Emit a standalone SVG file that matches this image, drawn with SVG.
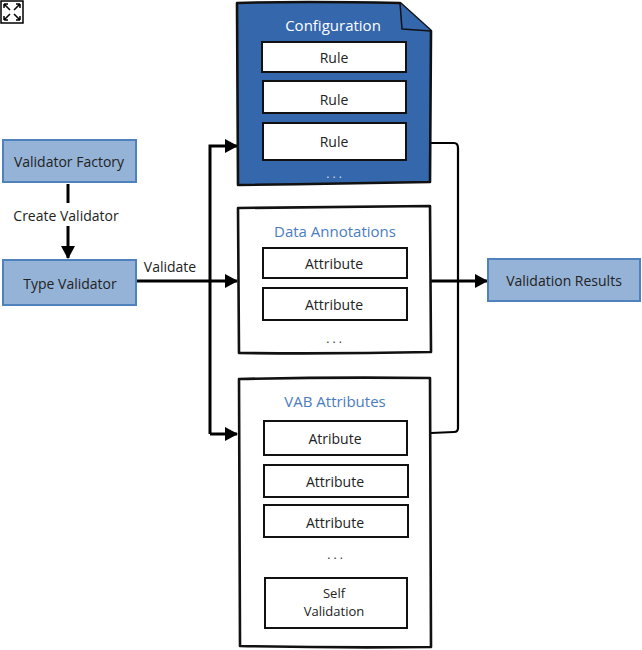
<svg xmlns="http://www.w3.org/2000/svg" width="642" height="650" viewBox="0 0 642 650">
<style>
text{font-family:"Open Sans","DejaVu Sans",sans-serif;font-size:14px;fill:#222;text-anchor:middle;dominant-baseline:central}
.lb{fill:#95b3d7;stroke:#4f81bd;stroke-width:2}
.box{fill:#fff;stroke:#111;stroke-width:2.6;stroke-linejoin:round}
.item{fill:#fff;stroke:#111;stroke-width:2}
.ttl{fill:#4a7cc0;font-size:15px}
.wt{fill:#fff;font-size:15px}
.conn{fill:none;stroke:#000;stroke-width:3}
.thin{fill:none;stroke:#000;stroke-width:2.2}
.dots{font-size:12px;fill:#333}
</style>
<defs>
<marker id="ah" markerWidth="13" markerHeight="14" refX="12" refY="7" orient="auto" markerUnits="userSpaceOnUse" viewBox="0 0 13 14">
<path d="M0,0 L13,7 L0,14 z" fill="#000"/>
</marker>
</defs>

<g id="expand-icon">
<rect x="1" y="1" width="22" height="22" fill="#fff" stroke="#000" stroke-width="1.5"/>
<path d="M4,4 L10,10 M4,4 L4,8 M4,4 L8,4 M20,4 L14,10 M20,4 L16,4 M20,4 L20,8 M4,20 L10,14 M4,20 L4,16 M4,20 L8,20 M20,20 L14,14 M20,20 L20,16 M20,20 L16,20" stroke="#000" stroke-width="1.5" fill="none"/>
</g>

<g id="connectors">
<path class="conn" d="M68,184 L68,203"/>
<path class="conn" d="M68,226 L68,258" marker-end="url(#ah)"/>
<path class="conn" d="M136,281 L237,281" marker-end="url(#ah)"/>
<path class="conn" d="M210,434 L210,146 L237,146" marker-end="url(#ah)"/>
<path class="conn" d="M210,434 L237,434" marker-end="url(#ah)"/>
<path class="thin" d="M431,143 L454,143 Q458,143 458,148 L458,428 Q458,432 454,432 L431,433"/>
<path class="conn" d="M431,281 L487,281" marker-end="url(#ah)"/>
<text x="66" y="215">Create Validator</text>
<text x="170" y="266">Validate</text>
</g>

<g id="validator-factory">
<rect class="lb" x="3" y="140" width="133" height="42"/>
<text x="69" y="161">Validator Factory</text>
</g>

<g id="type-validator">
<rect class="lb" x="3" y="260" width="133" height="45"/>
<text x="70" y="283">Type Validator</text>
</g>

<g id="validation-results">
<rect class="lb" x="488" y="259" width="152" height="42"/>
<text x="564" y="280">Validation Results</text>
</g>

<g id="configuration">
<path d="M237,3 Q300,1 400,3 L431,31 L430,182 Q330,184 238,185 Z" fill="#3567ad" stroke="#111" stroke-width="2.6" stroke-linejoin="round"/>
<path d="M400,3 L402,29 L431,31" fill="#3567ad" stroke="#111" stroke-width="1.5" stroke-linejoin="round"/>
<text class="wt" x="333" y="25">Configuration</text>
<rect class="item" x="262" y="42" width="144" height="30"/>
<text x="334" y="57">Rule</text>
<rect class="item" x="263" y="81" width="143" height="32"/>
<text x="334" y="99">Rule</text>
<rect class="item" x="263" y="123" width="143" height="37"/>
<text x="334" y="141">Rule</text>
<text class="dots" x="334" y="173" style="fill:#ddd">. . .</text>
</g>

<g id="data-annotations">
<path class="box" d="M238,208 Q330,207 430,206 L431,352 Q335,354 239,353 Z"/>
<text class="ttl" x="335" y="231">Data Annotations</text>
<rect class="item" x="263" y="248" width="144" height="30"/>
<text x="334" y="263">Attribute</text>
<rect class="item" x="263" y="288" width="144" height="32"/>
<text x="334" y="304">Attribute</text>
<text class="dots" x="334" y="338">. . .</text>
</g>

<g id="vab-attributes">
<path class="box" d="M239,379 Q330,377 430,378 L431,647 Q335,648 240,646 Z"/>
<text class="ttl" x="335" y="401">VAB Attributes</text>
<rect class="item" x="264" y="421" width="143" height="34"/>
<text x="335" y="438">Atribute</text>
<rect class="item" x="264" y="465" width="144" height="32"/>
<text x="335" y="481">Attribute</text>
<rect class="item" x="264" y="505" width="144" height="32"/>
<text x="335" y="522">Attribute</text>
<text class="dots" x="335" y="554">. . .</text>
<rect class="item" x="265" y="578" width="142" height="50"/>
<text x="334" y="593" style="font-size:13px">Self</text>
<text x="334" y="611" style="font-size:13px">Validation</text>
</g>
</svg>
